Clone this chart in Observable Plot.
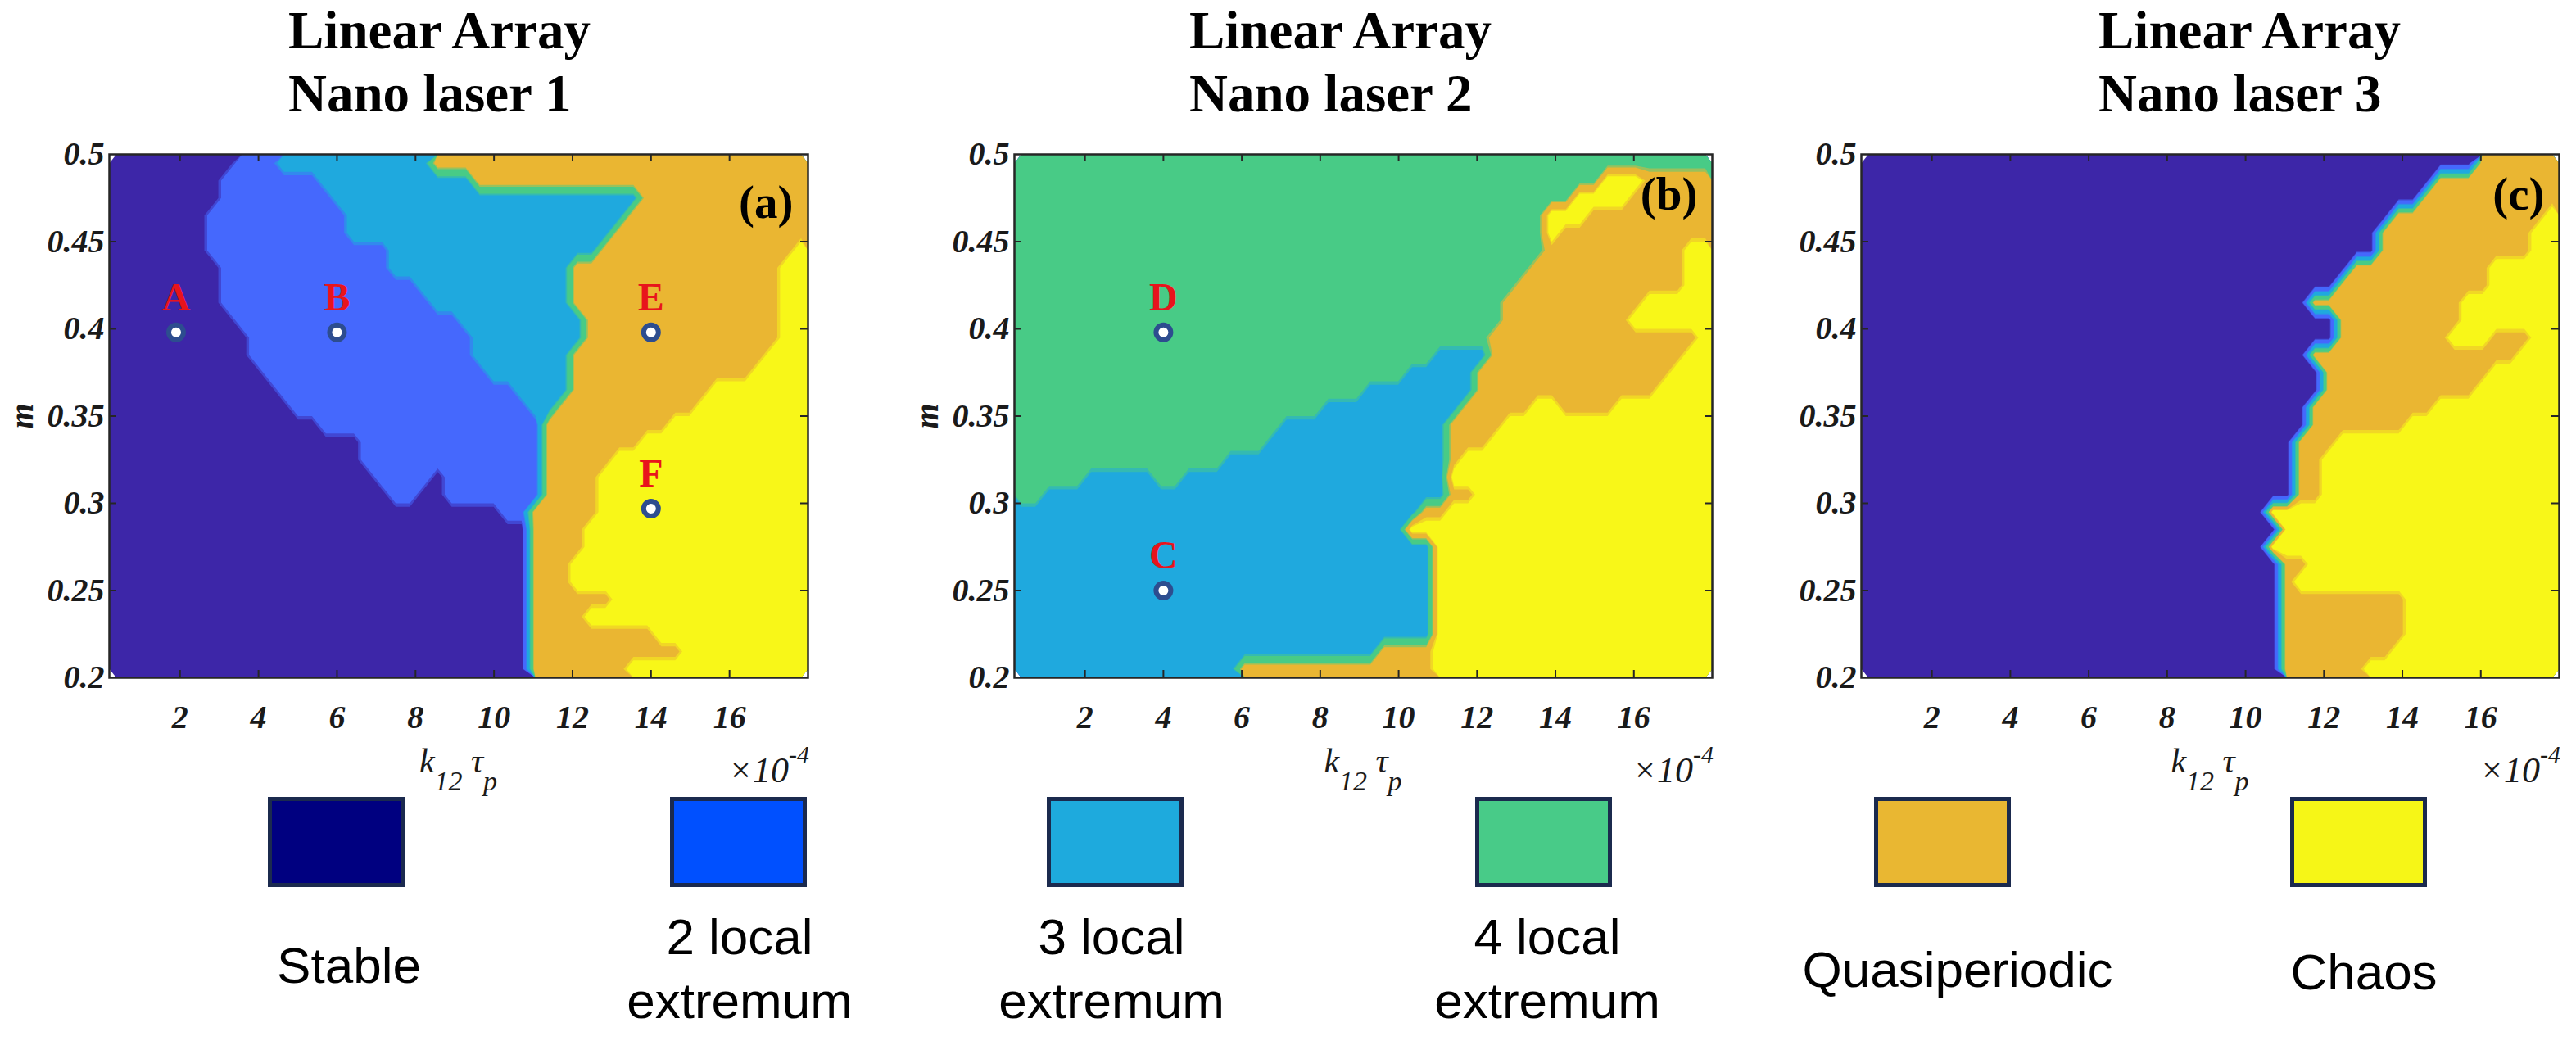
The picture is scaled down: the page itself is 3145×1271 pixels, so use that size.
<!DOCTYPE html>
<html><head><meta charset="utf-8">
<script src="https://cdn.jsdelivr.net/npm/d3@7"></script>
<script src="https://cdn.jsdelivr.net/npm/@observablehq/plot@0.6"></script>
<style>
html,body{margin:0;padding:0;background:#fff;}
#root{position:relative;width:3145px;height:1271px;overflow:hidden;background:#fff;}
.abs{position:absolute;}
.title{font-family:"Liberation Serif","Times New Roman",serif;font-weight:bold;font-size:65px;line-height:77px;color:#000;white-space:nowrap;}
.xl{font-family:"Liberation Serif","Times New Roman",serif;font-style:italic;font-size:42px;line-height:42px;color:#1a1a1a;white-space:nowrap;}
.xp{font-family:"Liberation Serif","Times New Roman",serif;font-style:italic;font-size:44px;line-height:44px;color:#1a1a1a;white-space:nowrap;}
.sb{position:relative;top:22px;font-size:34px;}
.sp{position:relative;top:-24px;font-size:30px;}
.leg{font-family:"Liberation Sans",Arial,sans-serif;font-size:62px;line-height:78px;color:#000;text-align:center;white-space:nowrap;}
.sq{position:absolute;box-sizing:border-box;border:5px solid #1b2a4e;}
</style></head><body><div id="root"></div><script>
// ---------------- data ----------------
const categories = ["Stable", "2 local extremum", "3 local extremum", "4 local extremum", "Quasiperiodic", "Chaos"];
const mapColors = ["#3d26a8", "#4568fd", "#1fa9de", "#48cb86", "#eab632", "#f8f718"];
const legendColors = ["#000080", "#0050ff", "#1eaadd", "#48cb88", "#e9b732", "#f6f617"];
const legendLines = [["Stable"], ["2 local", "extremum"], ["3 local", "extremum"], ["4 local", "extremum"], ["Quasiperiodic"], ["Chaos"]];
const panelTitles = [["Linear Array", "Nano laser 1"], ["Linear Array", "Nano laser 2"], ["Linear Array", "Nano laser 3"]];
const panelTags = ["(a)", "(b)", "(c)"];
const xTicks = [2, 4, 6, 8, 10, 12, 14, 16];
const yTicks = [0.2, 0.25, 0.3, 0.35, 0.4, 0.45, 0.5];
const xDomain = [0.2, 18];   // k12*tau_p  (x1e-4)
const yDomain = [0.2, 0.5];  // m

// Region maps: one row per m band (top m=0.495 ... bottom m=0.205).
// Each row: [category, xEnd, category, xEnd, ..., lastCategory]  (category 1..6 = categories[]).
const rowsA = [
  [1,3.38, 2,4.51, 3,8.30, 5],
  [1,3.09, 2,5.37, 3,9.30, 5],
  [1,2.92, 2,5.93, 3,13.71, 5],
  [1,2.75, 2,6.33, 3,13.43, 5],
  [1,2.73, 2,6.39, 3,13.08, 5],
  [1,2.75, 2,7.30, 3,12.52, 5,17.51, 6],
  [1,3.08, 2,7.47, 3,11.84, 5,17.23, 6],
  [1,3.08, 2,8.20, 3,11.78, 5,17.23, 6],
  [1,3.08, 2,8.49, 3,11.78, 5,17.23, 6],
  [1,3.32, 2,9.05, 3,12.35, 5,17.28, 6],
  [1,3.61, 2,9.51, 3,12.23, 5,17.11, 6],
  [1,3.66, 2,9.62, 3,12.12, 5,17.00, 6],
  [1,4.06, 2,9.96, 3,11.89, 5,16.55, 6],
  [1,4.63, 2,10.42, 3,11.78, 5,15.64, 6],
  [1,4.97, 2,10.93, 3,11.61, 5,15.07, 6],
  [1,5.54, 2,11.32, 5,14.50, 6],
  [1,6.73, 2,11.21, 5,13.71, 6],
  [1,6.73, 2,11.21, 5,13.03, 6],
  [1,7.01, 2,8.26, 1,8.83, 2,11.21, 5,12.57, 6],
  [1,7.30, 2,7.92, 1,8.88, 2,11.15, 5,12.63, 6],
  [1,10.08, 2,10.81, 5,12.57, 6],
  [1,11.04, 5,12.40, 6],
  [1,10.98, 5,12.23, 6],
  [1,10.93, 5,12.12, 6],
  [1,10.93, 5,12.00, 6],
  [1,10.93, 5,12.91, 6],
  [1,10.93, 5,12.46, 6],
  [1,10.93, 5,14.10, 6],
  [1,10.93, 5,14.84, 6],
  [1,10.93, 5,13.22, 6]
];
const rowsB = [
  [4],
  [4,15.07, 6,16.33, 5],
  [4,14.41, 6,15.85, 5],
  [4,13.83, 6,14.97, 5],
  [4,13.79, 6,13.98, 5],
  [4,13.74, 5,17.38, 6],
  [4,13.45, 5,17.23, 6],
  [4,12.99, 5,17.17, 6],
  [4,12.78, 5,16.33, 6],
  [4,12.52, 5,15.77, 6],
  [4,12.40, 5,17.57, 6],
  [4,10.87, 3,12.26, 5,17.34, 6],
  [4,10.19, 3,12.00, 5,17.00, 6],
  [4,9.00, 3,11.78, 5,16.43, 6],
  [4,8.15, 3,11.67, 5,13.37, 6,13.99, 5,15.41, 6],
  [4,7.12, 3,11.38, 5,12.52, 6],
  [4,6.44, 3,11.27, 5,12.18, 6],
  [4,5.65, 3,11.27, 5,11.67, 6],
  [4,1.90, 3,3.72, 4,4.57, 3,11.27, 6],
  [4,0.99, 3,11.21, 5,11.78, 6],
  [3,10.64, 5,11.10, 6],
  [3,10.08, 6],
  [3,10.76, 6],
  [3,10.87, 6],
  [3,10.87, 6],
  [3,10.87, 6],
  [3,10.87, 6],
  [3,10.87, 6],
  [3,9.40, 5,10.98, 6],
  [3,5.99, 5,10.98, 6]
];
const rowsC = [
  [1,15.70, 5],
  [1,14.73, 5],
  [1,14.39, 5],
  [1,13.88, 5,17.57, 6],
  [1,13.54, 5,17.23, 6],
  [1,13.42, 5,17.23, 6],
  [1,12.80, 5,16.32, 6],
  [1,12.23, 5,16.09, 6],
  [1,11.67, 5,15.64, 6],
  [1,12.40, 5,15.41, 6],
  [1,12.40, 5,15.01, 6,16.38, 5,17.17, 6],
  [1,11.61, 5,16.89, 6],
  [1,11.89, 5,16.38, 6],
  [1,11.84, 5,15.81, 6],
  [1,11.50, 5,14.96, 6],
  [1,11.44, 5,13.99, 6],
  [1,11.15, 5,12.46, 6],
  [1,11.15, 5,12.12, 6],
  [1,11.15, 5,12.12, 6],
  [1,11.15, 5,12.12, 6],
  [1,10.47, 6],
  [1,10.76, 6],
  [1,10.64, 6],
  [1,10.93, 5,11.44, 6],
  [1,10.87, 5,11.33, 6],
  [1,10.87, 5,13.94, 6],
  [1,10.87, 5,13.94, 6],
  [1,10.87, 5,13.94, 6],
  [1,10.87, 5,13.77, 6],
  [1,10.87, 5,12.86, 6]
];
// Marked operating points
const pointLabels = ["A", "B", "E", "F", "D", "C"];
const pointPanel  = [0, 0, 0, 0, 1, 1];
const pointX      = [1.9, 6.0, 14.0, 14.0, 4.0, 4.0];
const pointY      = [0.398, 0.398, 0.398, 0.297, 0.398, 0.25];

// ---------------- build ----------------
const NX = 50, NY = 30;
function toGrid(rows) {
  const dx = (xDomain[1] - xDomain[0]) / NX;
  const out = [];
  for (let j = NY - 1; j >= 0; --j) {           // bottom row first (y1 = 0.2)
    const spec = rows[j];
    for (let i = 0; i < NX; ++i) {
      const xc = xDomain[0] + (i + 0.5) * dx;
      let k = 0;
      while (k + 1 < spec.length && xc > spec[k + 1]) k += 2;
      out.push(spec[k]);
    }
  }
  return out;
}
const thresholds = [0.5], tColors = [mapColors[0]];
for (let k = 1; k < 6; ++k) {
  thresholds.push(k + 0.3, k + 0.5);
  tColors.push(d3.interpolateRgb(mapColors[k - 1], mapColors[k])(0.5), mapColors[k]);
}
const points = pointLabels.map((label, i) => ({label, panel: pointPanel[i], x: pointX[i], y: pointY[i]}));

const layouts = [
  {svgLeft: 0,    width: 1050, ml: 133, mr: 64, titleX: 352,  tagDy: 37, clip: null, ylabel: "m"},
  {svgLeft: 1100, width: 1050, ml: 138, mr: 60, titleX: 1452, tagDy: 27, clip: null, ylabel: "m"},
  {svgLeft: 2150, width: 995,  ml: 122, mr: 21, titleX: 2562, tagDy: 27, clip: 2195, ylabel: null}
];
const allRows = [rowsA, rowsB, rowsC];
const root = document.getElementById("root");
const MT = 188, MB = 173, H = 1000, FH = H - MT - MB;
const tickColor = "#262626";

function addDiv(cls, html, left, top, extra = "") {
  const d = document.createElement("div");
  d.className = "abs " + cls;
  d.innerHTML = html;
  d.style.cssText += `left:${left}px;top:${top}px;${extra}`;
  root.appendChild(d);
  return d;
}

layouts.forEach((L, p) => {
  const FW = L.width - L.ml - L.mr;
  const svg = Plot.plot({
    width: L.width, height: H,
    marginLeft: L.ml, marginRight: L.mr, marginTop: MT, marginBottom: MB,
    x: {domain: xDomain},
    y: {domain: yDomain},
    color: {type: "ordinal", domain: thresholds, range: tColors},
    style: {fontFamily: "'Liberation Serif', 'Times New Roman', serif", fontStyle: "italic", fontWeight: "bold",
            fontSize: "40px", color: "#1a1a1a", background: "transparent", maxWidth: "none", overflow: "visible"},
    marks: [
      Plot.contour(toGrid(allRows[p]), {width: NX, height: NY, x1: xDomain[0], x2: xDomain[1], y1: yDomain[0], y2: yDomain[1],
        fill: Plot.identity, thresholds, stroke: "none"}),
      Plot.frame({stroke: tickColor, strokeWidth: 2.5}),
      Plot.tickX(xTicks, {x: d => d, insetTop: FH - 9, stroke: tickColor, strokeWidth: 2}),
      Plot.tickX(xTicks, {x: d => d, insetBottom: FH - 9, stroke: tickColor, strokeWidth: 2}),
      Plot.tickY(yTicks.slice(1, -1), {y: d => d, insetRight: FW - 9, stroke: tickColor, strokeWidth: 2}),
      Plot.tickY(yTicks.slice(1, -1), {y: d => d, insetLeft: FW - 9, stroke: tickColor, strokeWidth: 2}),
      Plot.axisX(xTicks, {anchor: "bottom", tickSize: 0, tickPadding: 33, tickFormat: d => String(d), label: null, fontSize: 40}),
      Plot.axisY(yTicks, {anchor: "left", tickSize: 0, tickPadding: 6, tickFormat: d => String(d), fontSize: 40,
        label: L.ylabel, labelAnchor: "center", labelOffset: 122, labelArrow: "none"}),
      Plot.dot(points.filter(d => d.panel === p), {x: "x", y: "y", r: 9, fill: "white", stroke: "#2d4d8f", strokeWidth: 6}),
      Plot.text(points.filter(d => d.panel === p), {x: "x", y: "y", text: "label", dy: -27, lineAnchor: "bottom",
        fill: "#e8141c", fontSize: 48, fontStyle: "normal", fontWeight: "bold"}),
      Plot.text([panelTags[p]], {frameAnchor: "top-right", dx: -18, dy: L.tagDy, lineAnchor: "top", textAnchor: "end",
        fill: "#000", fontSize: 57, fontStyle: "normal", fontWeight: "bold"})
    ]
  });
  svg.style.position = "absolute";
  svg.style.top = "0px";
  if (L.clip != null) {
    const holder = document.createElement("div");
    holder.className = "abs";
    holder.style.cssText = `left:${L.clip}px;top:0px;width:${L.svgLeft + L.width - L.clip}px;height:${H}px;overflow:hidden;`;
    svg.style.left = (L.svgLeft - L.clip) + "px";
    holder.appendChild(svg);
    root.appendChild(holder);
  } else {
    svg.style.left = L.svgLeft + "px";
    root.appendChild(svg);
  }
  const frameL = L.svgLeft + L.ml, frameR = L.svgLeft + L.width - L.mr;
  // title (two lines)
  addDiv("title", panelTitles[p].join("<br>"), L.titleX, -1);
  // x label and exponent
  addDiv("xl", 'k<span class="sb">12</span> τ<span class="sb">p</span>', (frameL + frameR) / 2, 908, "transform:translateX(-50%);");
  addDiv("xp", '×10<span class="sp">-4</span>', frameR + 2, 919, "transform:translateX(-100%);");
});

// legend
const sqLeft = [327, 818, 1278, 1801, 2288, 2796];
const labelCx = [426, 903, 1357, 1889, 2390, 2886];
const labelBase = [1200, 1165, 1165, 1165, 1205, 1208];
categories.forEach((c, i) => {
  const sq = document.createElement("div");
  sq.className = "sq";
  sq.style.cssText += `left:${sqLeft[i]}px;top:973px;width:167px;height:110px;background:${legendColors[i]};`;
  root.appendChild(sq);
  addDiv("leg", legendLines[i].join("<br>"), labelCx[i], labelBase[i] - 60.5, "transform:translateX(-50%);");
});
</script></body></html>
